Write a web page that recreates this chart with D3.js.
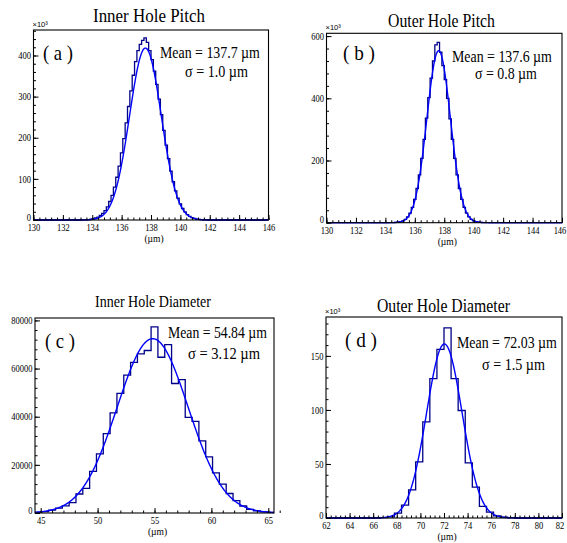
<!DOCTYPE html>
<html><head><meta charset="utf-8">
<script src="https://cdn.jsdelivr.net/npm/d3@7"></script>
<style>body{margin:0;background:#fff}svg{display:block}</style>
</head><body>
<svg id="chart" width="567" height="543"></svg>
<script>
// ---------- DATA ----------
const panelTitles = ["Inner Hole Pitch", "Outer Hole Pitch", "Inner Hole Diameter", "Outer Hole Diameter"];
const panelTags = ["( a )", "( b )", "( c )", "( d )"];
const meanLabels = ["137.7", "137.6", "54.84", "72.03"];
const sigmaLabels = ["1.0", "0.8", "3.12", "1.5"];

// x ranges
const xDomains = [[130, 146], [130, 146], [44.5, 65.5], [62, 82]];
const yDomains = [[0, 462], [0, 609], [0, 81000], [0, 186]];
const xMajorTicks = [
  [130,132,134,136,138,140,142,144,146],
  [130,132,134,136,138,140,142,144,146],
  [45,50,55,60,65],
  [62,64,66,68,70,72,74,76,78,80,82]];
const xMinorStep = [0.4, 0.4, 1, 0.4];
const yMajorTicks = [
  [0,100,200,300,400],
  [0,200,400,600],
  [0,20000,40000,60000,80000],
  [0,50,100,150]];
const yMinorStep = [20, 40, 4000, 10];
const yExponentLabel = [true, true, false, true];

// histogram bins (counts, x10^3 for a, b, d)
const binStarts = [133.2, 134.32, 44.5, 66.6];
const binWidths = [0.16, 0.16, 0.6, 0.6];
const innerPitchCounts = [0.2,0.4,0.6,1,2,3,5,7,11,16,23,32,45,60,80,104,131,163,198,236,276,314,352,385,412,427,437,443,432,412,390,362,330,294,256,218,182,149,119,93,71,53,39,28,20,13,9,6,4,2,1.5,1,0.5,0.3];
const outerPitchCounts = [0.2,0.4,0.8,1.7,3.3,6,11,19,31,49,75,110,154,207,268,336,402,465,520,572,580,548,505,460,400,334,268,207,154,110,75,49,31,19,11,6,3.3,1.7,0.8,0.4,0.2];
const innerDiamCounts = [300,600,1200,2000,3000,4300,7900,10200,17300,24600,33000,41600,49700,57300,62600,66100,67500,77300,64700,69900,53800,55400,39700,38100,30000,23300,16700,12000,8100,5100,2900,1500,900,500,250];
const outerDiamCounts = [0.3,1,4.6,12,26,52,89,129,156,176,129,99.5,51,28.6,10.8,5.5,2,0.7,0.3];
const allCounts = [innerPitchCounts, outerPitchCounts, innerDiamCounts, outerDiamCounts];

// gaussian fit parameters (as drawn)
const fitMeans = [137.62, 137.62, 54.84, 72.03];
const fitSigmas = [1.08, 0.8, 3.12, 1.5];
const fitPeaks = [418, 553, 72400, 161];

// ---------- LAYOUT ----------
const W = 567;
const frames = [
  {x0: 33.5, x1: 268.5, y0: 30, y1: 220},
  {x0: 326.5, x1: 562, y0: 33.3, y1: 222.7},
  {x0: 35, x1: 274, y0: 318, y1: 513},
  {x0: 326, x1: 562, y0: 317, y1: 518}
];
const titleLayout = [
  {x: 93, y: 22, w: 112, s: 19},
  {x: 388, y: 26.5, w: 107, s: 18.5},
  {x: 95, y: 307, w: 116, s: 16},
  {x: 377, y: 311.5, w: 133, s: 19}
];
const tagLayout = [
  {x: 43, y: 60, w: 30}, {x: 343, y: 60, w: 32}, {x: 45, y: 348, w: 30}, {x: 345, y: 346.5, w: 32}
];
const meanLayout = [
  {x: 160, y: 58, w: 100, sx: 185, sy: 77, sw: 63},
  {x: 452, y: 61.5, w: 100, sx: 475, sy: 79, sw: 62},
  {x: 168, y: 338, w: 99, sx: 188, sy: 359, sw: 72},
  {x: 457, y: 348, w: 100, sx: 482, sy: 370, sw: 63}
];

const svg = d3.select("#chart");
const SERIF = "'Liberation Serif','Times New Roman',serif";
const SANS = "'Liberation Sans',Arial,sans-serif";

// text condensed horizontally to a target width
function addText(x, y, str, size, len) {
  const t = svg.append("text").attr("x", 0).attr("y", 0)
    .attr("font-size", size).attr("font-family", SERIF).attr("fill", "#000").text(str);
  const nat = t.node().getComputedTextLength();
  const sx = len ? len / nat : 1;
  t.attr("transform", `translate(${x},${y}) scale(${sx},1)`);
  return t;
}

function range(a, b, step) {
  const out = [];
  const n = Math.round((b - a) / step);
  for (let i = 0; i <= n; i++) out.push(+(a + i * step).toFixed(6));
  return out;
}

frames.forEach((f, i) => {
  const x = d3.scaleLinear().domain(xDomains[i]).range([f.x0, f.x1]);
  const y = d3.scaleLinear().domain(yDomains[i]).range([f.y1, f.y0]);
  const g = svg.append("g");

  const clipId = "clip" + i;
  svg.append("clipPath").attr("id", clipId).append("rect")
    .attr("x", f.x0).attr("y", f.y0 - 1).attr("width", f.x1 - f.x0).attr("height", f.y1 - f.y0 + 2);

  // histogram
  const counts = allCounts[i];
  const pts = [[xDomains[i][0], 0], [binStarts[i], 0]];
  counts.forEach((c, k) => {
    const l = binStarts[i] + k * binWidths[i];
    pts.push([l, c], [l + binWidths[i], c]);
  });
  const end = binStarts[i] + counts.length * binWidths[i];
  pts.push([end, 0], [xDomains[i][1], 0]);
  const line = d3.line().x(d => x(d[0])).y(d => y(d[1]));
  g.append("path").attr("d", line(pts)).attr("fill", "none")
    .attr("stroke", "#000088").attr("stroke-width", 1.3).attr("clip-path", `url(#${clipId})`);

  // fit curve
  const cpts = [];
  const [a, b] = xDomains[i];
  for (let k = 0; k <= 600; k++) {
    const xv = a + (b - a) * k / 600;
    const yv = fitPeaks[i] * Math.exp(-Math.pow(xv - fitMeans[i], 2) / (2 * fitSigmas[i] * fitSigmas[i]));
    cpts.push([xv, yv]);
  }
  g.append("path").attr("d", line(cpts)).attr("fill", "none")
    .attr("stroke", "#0000ff").attr("stroke-width", 1.4).attr("clip-path", `url(#${clipId})`);

  // axes
  const styleAxis = sel => {
    sel.select(".domain").remove();
    sel.selectAll("line").attr("stroke", "#000").attr("stroke-width", 1);
    sel.selectAll("text").attr("font-family", SERIF).attr("font-size", 10).attr("fill", "#000");
  };
  const minorStartX = Math.ceil(xDomains[i][0] / xMinorStep[i] - 1e-9) * xMinorStep[i];
  const gxMinor = g.append("g").attr("transform", `translate(0,${f.y1})`)
    .call(d3.axisBottom(x).tickValues(range(minorStartX, xDomains[i][1], xMinorStep[i])).tickSize(-2.5).tickFormat(""));
  styleAxis(gxMinor);
  const gx = g.append("g").attr("transform", `translate(0,${f.y1})`)
    .call(d3.axisBottom(x).tickValues(xMajorTicks[i]).tickSize(-5).tickPadding(4).tickFormat(d3.format("d")));
  styleAxis(gx);
  gx.selectAll(".tick").each(function(d) {
    const px = x(d);
    const shift = Math.min(0, (W - 1) - (px + 6.5));
    d3.select(this).select("text").attr("transform", `translate(${shift},0) scale(0.85,1)`);
  });

  const gyMinor = g.append("g").attr("transform", `translate(${f.x0},0)`)
    .call(d3.axisLeft(y).tickValues(range(0, yDomains[i][1], yMinorStep[i]).filter(v => v <= yDomains[i][1])).tickSize(-2.5).tickFormat(""));
  styleAxis(gyMinor);
  const gy = g.append("g").attr("transform", `translate(${f.x0},0)`)
    .call(d3.axisLeft(y).tickValues(yMajorTicks[i]).tickSize(-5).tickPadding(3).tickFormat(d3.format("d")));
  styleAxis(gy);
  gy.selectAll(".tick").each(function(d) {
    d3.select(this).select("text").attr("transform", `translate(0,${d === 0 ? -3 : 0}) scale(0.85,1)`);
  });

  // frame
  svg.append("rect").attr("x", f.x0).attr("y", f.y0).attr("width", f.x1 - f.x0).attr("height", f.y1 - f.y0)
    .attr("fill", "none").attr("stroke", "#000").attr("stroke-width", 1.1);

  // exponent label
  if (yExponentLabel[i]) {
    svg.append("text").attr("x", f.x0 - 1).attr("y", f.y0 - 3)
      .attr("font-family", SANS).attr("font-size", 7.5).attr("fill", "#000")
      .text("\u00d710\u00b3");
  }

  // axis title
  svg.append("text").attr("x", (f.x0 + f.x1) / 2 + 3).attr("y", f.y1 + 22)
    .attr("text-anchor", "middle").attr("font-family", SERIF).attr("font-size", 9.5)
    .text("(\u00b5m)");

  // title
  const tl = titleLayout[i];
  addText(tl.x, tl.y, panelTitles[i], tl.s, tl.w);
  // tag
  const tg = tagLayout[i];
  addText(tg.x, tg.y, panelTags[i], 21, tg.w);
  // mean / sigma
  const ml = meanLayout[i];
  addText(ml.x, ml.y, "Mean = " + meanLabels[i] + " \u00b5m", 17, ml.w);
  addText(ml.sx, ml.sy, "\u03c3 = " + sigmaLabels[i] + " \u00b5m", 17, ml.sw);
});
</script>
</body></html>
